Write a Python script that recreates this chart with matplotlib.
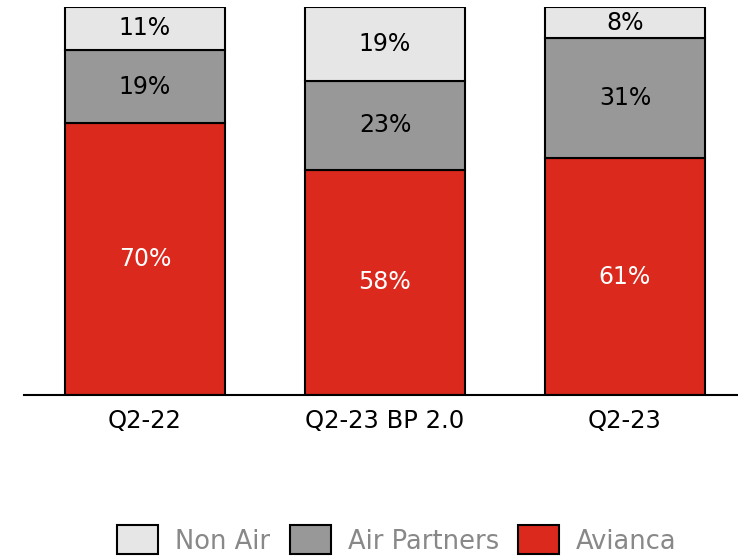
import matplotlib
matplotlib.use("Agg")
import matplotlib.pyplot as plt
import numpy as np

# data
categories = ["Q2-22", "Q2-23 BP 2.0", "Q2-23"]
avianca = [70, 58, 61]
air_partners = [19, 23, 31]
non_air = [11, 19, 8]

red = "#DC291E"
grey = "#989898"
light = "#E6E6E6"

plt.rcParams['font.family'] = ['DejaVu Sans']

fig = plt.figure(figsize=(7.38, 5.6), dpi=100)
ax = fig.add_axes([24/738, 165/560, 1 - 24/738, 388/560])

x = np.arange(len(categories))
w = 0.667
lw = 1.5

b1 = ax.bar(x, avianca, w, color=red, edgecolor="black", linewidth=lw, label="Avianca")
b2 = ax.bar(x, air_partners, w, bottom=avianca, color=grey, edgecolor="black", linewidth=lw, label="Air Partners")
bottom3 = np.array(avianca) + np.array(air_partners)
b3 = ax.bar(x, non_air, w, bottom=bottom3, color=light, edgecolor="black", linewidth=lw, label="Non Air")

for i in range(len(categories)):
    ax.text(x[i], avianca[i] / 2, f"{avianca[i]}%", ha="center", va="center", color="white", fontsize=17)
    ax.text(x[i], avianca[i] + air_partners[i] / 2, f"{air_partners[i]}%", ha="center", va="center", color="black", fontsize=17)
    ax.text(x[i], bottom3[i] + non_air[i] / 2, f"{non_air[i]}%", ha="center", va="center", color="black", fontsize=17)

ax.set_xlim(-0.504, 2.471)
ax.set_ylim(0, 100)
ax.set_xticks(x)
ax.set_xticklabels(categories, fontsize=17.5)
ax.tick_params(axis="x", length=0, pad=10)
ax.set_yticks([])
for s in ["left", "right", "top"]:
    ax.spines[s].set_visible(False)
ax.spines["bottom"].set_linewidth(1.5)

leg = fig.legend(handles=[b3, b2, b1], labels=["Non Air", "Air Partners", "Avianca"],
                 loc="center", bbox_to_anchor=(397/738, 1 - 540/560), ncol=3, frameon=False,
                 fontsize=18.5, handlelength=1.6, handleheight=1.36, columnspacing=0.74, handletextpad=0.66)
for t in leg.get_texts():
    t.set_color("#888888")

fig.savefig("out.png", dpi=100)
